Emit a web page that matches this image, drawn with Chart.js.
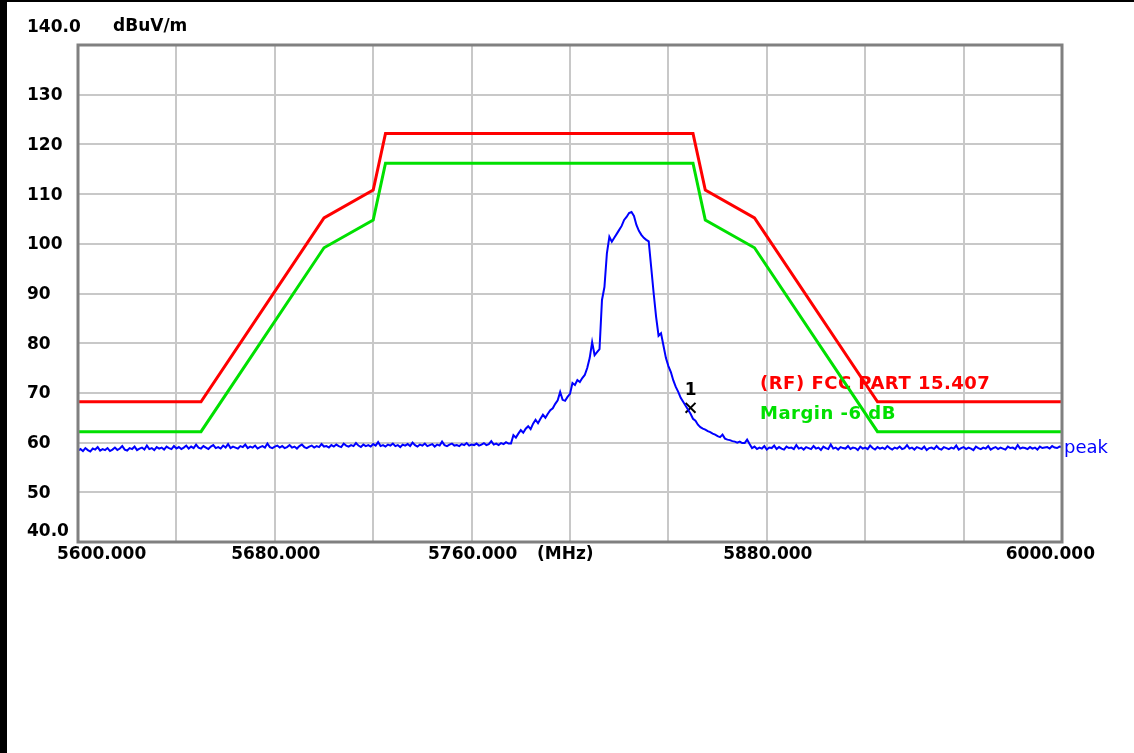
<!DOCTYPE html>
<html>
<head>
<meta charset="utf-8">
<script src="https://cdn.jsdelivr.net/npm/chart.js@4.4.1/dist/chart.umd.min.js"></script>
<style>
  html, body { margin: 0; padding: 0; background: #fff; }
  #wrap { width: 1134px; height: 753px; }
</style>
</head>
<body>
<div id="wrap"><canvas id="specChart" width="1134" height="753"></canvas></div>
<script>
// sweep: 5600 - 6000 MHz, 1 MHz per point
const sweepStart = 5600;
const sweepStep = 1;

// peak trace (dBuV/m)
const traceLevel = [
  // 5600 - 5640
  58.4,58.7,58.3,58.9,58.5,58.2,58.8,58.6,59.1,58.4,
  58.7,58.5,58.9,58.3,58.6,59.0,58.5,58.8,59.3,58.6,
  58.4,58.9,58.7,59.2,58.5,58.8,59.0,58.6,59.4,58.7,
  58.9,58.5,59.1,58.8,59.0,58.6,59.2,58.9,58.7,59.3,
  58.8,
  // 5641 - 5700
  59.1,58.7,59.0,59.4,58.8,59.2,58.9,59.6,59.0,58.8,
  59.3,59.0,58.7,59.2,59.5,58.9,59.1,58.8,59.4,59.0,
  59.7,58.9,59.2,59.0,58.8,59.3,59.1,59.6,58.9,59.2,
  59.0,59.4,58.8,59.1,59.3,59.0,59.8,59.1,58.9,59.2,
  59.4,59.0,59.3,58.9,59.1,59.5,59.0,59.2,58.8,59.3,
  59.6,59.1,58.9,59.2,59.4,59.0,59.3,59.1,59.7,59.2,
  // 5701 - 5760
  59.3,59.0,59.5,59.2,59.6,59.3,59.1,59.8,59.4,59.2,
  59.5,59.3,59.9,59.4,59.1,59.6,59.3,59.5,59.2,59.7,
  59.4,60.1,59.3,59.5,59.2,59.6,59.4,59.8,59.3,59.5,
  59.1,59.6,59.4,59.7,59.3,60.0,59.5,59.2,59.6,59.4,
  59.8,59.3,59.5,59.7,59.2,59.6,59.4,60.2,59.5,59.3,
  59.6,59.8,59.4,59.5,59.3,59.7,59.5,59.9,59.4,59.6,
  // 5761 - 5775
  59.5,59.8,59.4,59.6,59.9,59.5,59.7,60.3,59.6,59.8,
  59.5,59.9,59.7,60.1,59.8,
  // 5776 - 5873 (emission)
  59.8,61.5,61.0,61.8,62.5,62.0,62.8,63.3,62.7,63.8,
  64.6,63.9,64.8,65.6,65.0,65.8,66.5,66.9,67.8,68.5,
  70.2,68.6,68.4,69.2,69.8,72.0,71.6,72.6,72.2,73.0,
  73.6,75.0,77.0,80.2,77.6,78.2,78.8,88.7,91.3,98.1,
  101.4,100.4,101.2,102.0,102.8,103.6,104.8,105.4,106.2,106.4,
  105.6,103.8,102.6,101.8,101.2,100.8,100.5,95.3,90.1,85.3,
  81.5,82.0,79.5,77.0,75.4,74.2,72.5,71.2,70.2,69.0,
  68.2,67.4,66.6,65.8,64.8,64.4,63.6,63.1,62.8,62.6,
  62.3,62.1,61.8,61.6,61.3,61.1,61.6,60.8,60.6,60.5,
  60.3,60.2,60.0,60.2,59.9,59.9,60.6,59.7,
  // 5874 - 6000
  58.9,59.2,58.7,59.0,58.8,59.3,58.6,59.0,58.9,59.4,58.7,59.1,58.8,58.6,59.2,58.9,59.0,58.7,59.5,58.8,
  59.0,58.6,59.1,58.9,58.7,59.3,58.8,59.0,58.5,59.2,58.9,58.7,59.6,58.8,59.0,58.6,59.1,58.9,58.8,59.3,
  58.7,59.0,58.9,58.5,59.2,58.8,59.0,58.7,59.4,58.9,58.6,59.1,58.8,59.0,58.7,59.3,58.9,58.6,59.0,58.8,
  59.2,58.7,58.9,59.5,58.8,59.0,58.6,59.1,58.9,58.7,59.2,58.5,58.9,59.0,58.7,59.3,58.8,58.6,59.1,58.9,
  58.7,59.0,58.8,59.4,58.6,58.9,59.1,58.7,59.0,58.8,58.5,59.2,58.9,58.7,59.0,58.8,59.3,58.6,58.9,59.1,
  58.7,59.0,58.8,58.6,59.2,58.9,59.0,58.7,59.5,58.8,59.0,58.9,58.7,59.1,58.8,59.0,58.6,59.2,58.9,59.0,
  59.1,58.8,59.3,59.0,58.9,59.2,59.1
];

// limit line (RF) FCC PART 15.407 and the -6 dB margin line
const limitFreq   = [5600, 5650, 5700, 5720, 5725, 5850, 5855, 5875, 5925, 6000];
const limitLevel  = [68.2, 68.2, 105.2, 110.8, 122.2, 122.2, 110.8, 105.2, 68.2, 68.2];
const marginLevel = [62.2, 62.2, 99.2, 104.8, 116.2, 116.2, 104.8, 99.2, 62.2, 62.2];

// marker 1
const markerFreq = [5849];
const markerLevel = [67.0];

// axis tick labels
const yTickValues = [140, 130, 120, 110, 100, 90, 80, 70, 60, 50, 40];
const yTickLabels = ['140.0', '130', '120', '110', '100', '90', '80', '70', '60', '50', '40.0'];
const xTickValues = [5600, 5680, 5760, 5880, 6000];
const xTickLabels = ['5600.000', '5680.000', '5760.000', '5880.000', '6000.000'];

const FONT = 'bold 17px "DejaVu Sans", sans-serif';

const tracePts = traceLevel.map((v, i) => ({ x: sweepStart + i * sweepStep, y: v }));
const limitPts = limitFreq.map((f, i) => ({ x: f, y: limitLevel[i] }));
const marginPts = limitFreq.map((f, i) => ({ x: f, y: marginLevel[i] }));
const markerPts = markerFreq.map((f, i) => ({ x: f, y: markerLevel[i] }));

const analyzerDecor = {
  id: 'analyzerDecor',
  beforeDraw(chart) {
    const ctx = chart.ctx;
    ctx.save();
    ctx.fillStyle = '#fff';
    ctx.fillRect(0, 0, chart.width, chart.height);
    // window frame
    ctx.fillStyle = '#000';
    ctx.fillRect(0, 0, 7, chart.height);
    ctx.fillRect(0, 0, chart.width, 2);
    ctx.restore();
  },
  beforeDatasetsDraw(chart) {
    // limit names, drawn under the lines like the original
    const ctx = chart.ctx;
    ctx.save();
    ctx.font = 'bold 18px "DejaVu Sans", sans-serif';
    ctx.letterSpacing = '0.5px';
    ctx.textBaseline = 'middle';
    ctx.textAlign = 'left';
    ctx.fillStyle = '#ff0000';
    ctx.fillText('(RF) FCC PART 15.407', 760, 384);
    ctx.fillStyle = '#00e000';
    ctx.fillText('Margin -6 dB', 760, 414);
    ctx.restore();
  },
  afterDraw(chart) {
    const ctx = chart.ctx;
    const a = chart.chartArea;
    const xs = chart.scales.x, ys = chart.scales.y;
    ctx.save();
    // plot border
    ctx.strokeStyle = '#808080';
    ctx.lineWidth = 3;
    ctx.strokeRect(a.left, a.top, a.right - a.left, a.bottom - a.top);

    ctx.font = FONT;
    ctx.fillStyle = '#000';
    ctx.textBaseline = 'middle';
    ctx.textAlign = 'left';
    yTickValues.forEach((v, i) => {
      let y = ys.getPixelForValue(v) + 1;
      if (i === 0) y -= 18;
      if (i === yTickValues.length - 1) y -= 11;
      ctx.fillText(yTickLabels[i], 27, y);
    });
    ctx.fillText('dBuV/m', 113, 27);

    const ty = a.bottom + 13;
    xTickValues.forEach((v, i) => {
      const x = xs.getPixelForValue(v);
      if (i === 0) { ctx.textAlign = 'left'; ctx.fillText(xTickLabels[i], x - 21, ty); }
      else if (i === xTickValues.length - 1) { ctx.textAlign = 'right'; ctx.fillText(xTickLabels[i], x + 33, ty); }
      else { ctx.textAlign = 'center'; ctx.fillText(xTickLabels[i], x + 1, ty); }
    });
    ctx.textAlign = 'left';
    ctx.fillText('(MHz)', 537, ty);

    // trace name and marker number
    ctx.fillStyle = '#0000ff';
    ctx.font = '18px "DejaVu Sans", sans-serif';
    ctx.fillText('peak', a.right + 2, ys.getPixelForValue(traceLevel[traceLevel.length - 1]) + 1);
    ctx.fillStyle = '#000';
    ctx.font = FONT;
    ctx.textAlign = 'center';
    ctx.fillText('1', xs.getPixelForValue(markerFreq[0]), ys.getPixelForValue(markerLevel[0]) - 17);
    ctx.restore();
  }
};

new Chart('specChart', {
  type: 'scatter',
  data: {
    datasets: [
      {
        label: 'peak',
        data: tracePts,
        showLine: true,
        borderColor: '#0000ff',
        borderWidth: 2,
        pointRadius: 0,
        tension: 0
      },
      {
        label: '(RF) FCC PART 15.407',
        data: limitPts,
        showLine: true,
        borderColor: '#ff0000',
        borderWidth: 3,
        pointRadius: 0
      },
      {
        label: 'Margin -6 dB',
        data: marginPts,
        showLine: true,
        borderColor: '#00e000',
        borderWidth: 3,
        pointRadius: 0
      },
      {
        label: 'marker 1',
        data: markerPts,
        showLine: false,
        pointStyle: 'crossRot',
        pointRadius: 7,
        borderColor: '#000',
        borderWidth: 2
      }
    ]
  },
  options: {
    responsive: false,
    animation: false,
    events: [],
    layout: { padding: { left: 78, top: 45, right: 72, bottom: 211 } },
    plugins: { legend: { display: false }, tooltip: { enabled: false } },
    scales: {
      x: {
        type: 'linear',
        min: 5600,
        max: 6000,
        ticks: { stepSize: 40, display: false },
        grid: { color: '#c8c8c8', lineWidth: 2, drawTicks: false },
        border: { display: false }
      },
      y: {
        min: 40,
        max: 140,
        ticks: { stepSize: 10, display: false },
        grid: { color: '#c8c8c8', lineWidth: 2, drawTicks: false },
        border: { display: false }
      }
    }
  },
  plugins: [analyzerDecor]
});
</script>
</body>
</html>
